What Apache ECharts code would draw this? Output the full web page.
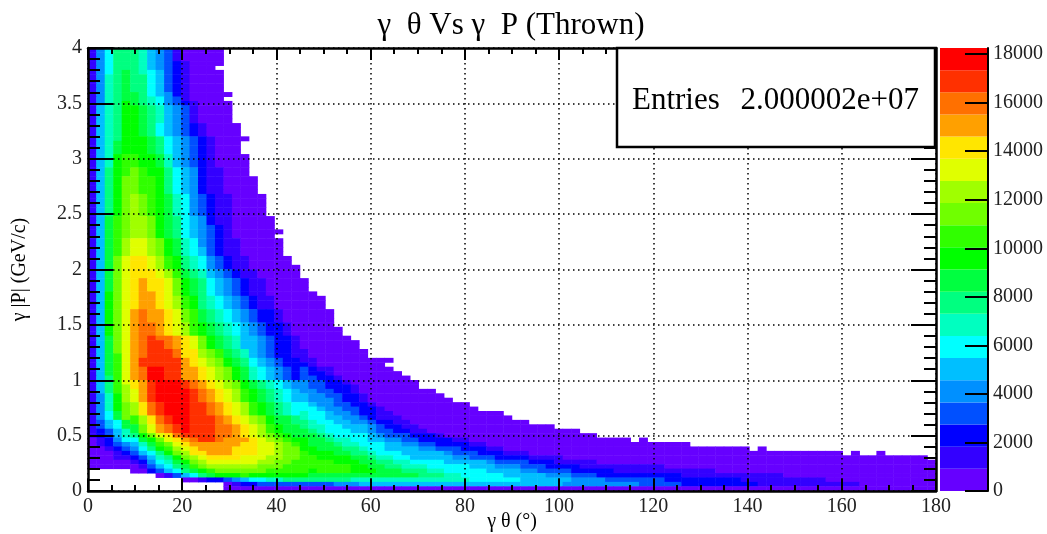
<!DOCTYPE html>
<html><head><meta charset="utf-8">
<style>html,body{margin:0;padding:0;background:#fff}#c{width:1047px;height:534px}</style>
<script src="https://cdn.jsdelivr.net/npm/echarts@6/dist/echarts.min.js"></script>
</head><body><div id="c"></div>
<script>
// 100 x 100 bin histogram, top row (P = 4) first. Each character is a colour band
// (0-9, a-j = band 0..19, "." = empty bin); "x:n" means n bins in a row; missing trailing bins are empty.
const levelRows = [
"1468887543100000","1468887543100000","1468887543100000","1468887543210000","146888754321000",
"1468987653210000","1478988653210000","1478988653210000","1478988653210000","1478988653210000",
"14789986542100000","1478998764310000","1478a987643210000","1578aa98754310000","1578aa98754310000",
"1578aa98754310000","1578aa98754310000","1578aa986543210000","1578aa986543210000","1578aa986543210000",
"1578aaa986543210000","1579aaa98654321000","1579aaa98654321000","1579aaa98654321000","157abbaa97543210000",
"157abbaa97543210000","157abbaa97543210000","158abcbaa8654211000","158abcbaa8654211000","158accbba86542110000",
"158accbba86542110000","158accbba86542110000","158accbba86542110000","158acdcba976432110000","158acdcba976432110000",
"158acdcba976432110000","158acdcba976432110000","158acdcba976432110000",
"159bcddca9865421100000","159bcddca9865421100000","159bcddca9865432100000",
"159bcddca98654321000000","159bcddca9865432100000",
"159bdeedca9764321100000","159bdeedca9764321100000","159bdeedca9765321100000","159bdeedca9765321100000",
"159ceffedba8764321100000","159ceffedba8764321100000","159ceffedba87643211000000",
"159cefffedb98754321100000","159cefffedb98754321100000",
"159cefgffeca98654321100000","159cefgffeca98654321100000","159cefgffeca98654321100000",
"15acefggfeca986543211000000",
"15acefggfedba87654321100000 0","15acefggfedba87654321100000 0","15acefggfedba87654321100000 0",
"15aceghggfecb9876543221000000","15aceghggfecb9876543221000000","15aceghggfecb9876543221000000",
"15aceghhgfedba98765432210 00 00","15aceghhgfedba98765432210 00000","15aceghhgfedba98765432210 00000",
"159ceghihhgfeca9875543221 00 0000",
"159ceghiihgfeca9875543221 00 0:5","159ceghiihgfeca9875543221 00 0:5",
"159ceghiiihffdcb987543221 10 0:6","159beghiiihffdcb987543221 10 0:6",
"159begiiiiigfedca98654322 11 0:9","159begiiiiigfedca98654322 21 0:8",
"159beghjjiiggfedca9765432 32 11 0:7","159beghjjiiggfedca9765432 32 21 0:8","158beghjjiiggfedca9765432 33 221 0:8",
"158befgijjjihgfedca987654 43 3221 0:8","158bdfgijjjihgfedca987654 43 32221 0:7",
"158bdegijjjjihgfedba98765 44 33221 0:9","147adegijjjjihgfedba98765 54 433221 0:9","147adegijjjjihgfedba98765 54 443221 0:10",
"147acdfhijjjiihgfedba9876 65 4433221 0:11","147acdfhijjjiihgfedba9876 66 54433221 0:11","1469cdfhijjjiihgfedba9876 76 654432211 0:13",
"1469cbdfhijjiiihgfedca998 76 6554432111 0:13","13569bdfhijjiiihgfedca998 87 66554432211 0:14",
"135699ceghijiiihhgfedba99 87 766555432211 0:16","123579ceghijiiihhgfedba99 98 7666554332211 0:18",
"123578acefhiiiihhgfedcba9 99 876666543332221 0:18",
"0124669acefghiihgggfedcba a9 987766554433222211 0:19 . 0",
"01234579bcefggggggffeedcb a9 99877666554433222211 0:24",
"00123468abdefggggfffeedcc aa 9998876655554433322211 0:29 . 0",
"000123568acdffgggfffeedcc ba aa99887666555554333222111 0:37 . 0 . . 0",
"0001123578acdeffffeeeddcc bb aaaa99877665555544333222211 11 0:43",
"00000124679acdeeeeeeddccb bb bbaaa9988776666555554333322211111 0:40",
"000000135689bcddddddcccbb bb bbbbaa9988777666665554443332222 1:10 0:32",
".:5 00235689abccccccbbbb ba bbbbaaa99988877666665555443333 22222 1:12 0:26",
".:8 0135689aaabaaaaaa a9 9:12 88877666665555544433 3 2:10 1:12 0:18",
".:11 001223456677888 8 8888 7:14 666666 555555 4444 3333333 2:9 1:10 0:13",
".:16 01223333333 33 444 5:24 4:9 3:5 2:9 1:12 0:9",
".:16 0:84"
];
const bandColors = ['#6600ff','#3300ff','#0000ff','#0050ff','#0090ff','#00bfff','#00ffff','#00ffc0','#00ff80','#00ff40','#00ff00','#30ff00','#70ff00','#a0ff00','#e0ff00','#ffe600','#ffa000','#ff7000','#ff3000','#ff0000'];
const bandWidth = 912.5;
const thetaBins = Array.from({length:100}, (_, i) => i);
const pBins = Array.from({length:100}, (_, i) => i);
const colorbarTicks = [0,2000,4000,6000,8000,10000,12000,14000,16000,18000];
const entriesLabel = 'Entries';
const entriesValue = '2.000002e+07';

const LV = '0123456789abcdefghij';
const cells = [];
levelRows.forEach((row, r) => {
  let c = 0;
  for (const m of row.matchAll(/([.0-9a-j])(?::(\d+))?/g)) {
    const n = m[2] ? +m[2] : 1;
    for (let k = 0; k < n; k++, c++) {
      if (m[1] !== '.' && c < 100) cells.push([c, 99 - r, (LV.indexOf(m[1]) + 0.5) * bandWidth]);
    }
  }
});
const serif = '"Liberation Serif","Times New Roman",serif';
function frameAxis(extra, major, minor, split, interval, max) {
  return Object.assign({
    type:'value', gridIndex:0, min:0, max:max, interval:interval, z:5,
    axisLine:{show:true, onZero:false, lineStyle:{color:'#000', width:2.5}},
    axisTick:{show:true, inside:true, length:major, lineStyle:{color:'#000', width:2}},
    minorTick:{show:true, splitNumber:split, length:minor, lineStyle:{color:'#000', width:2}},
    splitLine:{show:false}, axisLabel:{show:false}
  }, extra);
}
const labelStyle = {show:true, color:'#222', fontFamily:serif, fontSize:20, margin:6};
const gridDots = {show:true, lineStyle:{color:'#000', width:1.5, type:[1.5,3.5]}};
const hiddenCat = (g, d) => ({type:'category', gridIndex:g, data:d, show:false, axisLine:{onZero:false}});

const chart = echarts.init(document.getElementById('c'), null, {renderer:'canvas'});
chart.setOption({
  animation:false,
  backgroundColor:'#fff',
  title:{text:'γ\u00a0\u00a0θ Vs γ\u00a0\u00a0P (Thrown)', left:506, top:5, textAlign:'center',
         textStyle:{fontFamily:serif, fontSize:31, fontWeight:'normal', color:'#000'}},
  grid:[{left:88, top:48, width:848, height:443, outerBoundsMode:'none'},
        {left:940, top:48, width:48, height:443, outerBoundsMode:'none'}],
  xAxis:[
    hiddenCat(0, thetaBins),
    frameAxis({position:'bottom', axisLabel:labelStyle, splitLine:gridDots,
      name:'γ θ (°)', nameLocation:'middle', nameGap:21, nameMoveOverlap:false,
      nameTextStyle:{fontFamily:serif, fontSize:20, color:'#000'}}, 12, 6, 4, 20, 180),
    frameAxis({position:'top'}, 12, 6, 4, 20, 180),
    hiddenCat(1, ['band'])
  ],
  yAxis:[
    hiddenCat(0, pBins),
    frameAxis({position:'left', axisLabel:Object.assign({}, labelStyle, {formatter:v => String(v), padding:[5,0,0,0]}), splitLine:gridDots,
      name:'γ |P| (GeV/c)', nameLocation:'middle', nameGap:58, nameRotate:90, nameMoveOverlap:false,
      nameTextStyle:{fontFamily:serif, fontSize:20, color:'#000'}}, 25, 12, 5, 0.5, 4),
    frameAxis({position:'right'}, 25, 12, 5, 0.5, 4),
    {type:'value', gridIndex:1, position:'right', min:0, max:20*bandWidth, z:5,
      axisLine:{show:true, onZero:false, lineStyle:{color:'#000', width:2}},
      axisTick:{show:true, inside:true, length:23, customValues:colorbarTicks, lineStyle:{color:'#000', width:2}},
      axisLabel:{show:true, customValues:colorbarTicks, color:'#222', fontFamily:serif, fontSize:20, margin:5, padding:[5,0,0,0], formatter:v => String(v)},
      splitLine:{show:false}}
  ],
  visualMap:{type:'piecewise', show:false, seriesIndex:0, dimension:2,
    pieces:bandColors.map((color, i) => ({min:i*bandWidth, max:(i+1)*bandWidth, color}))},
  series:[
    {type:'heatmap', xAxisIndex:0, yAxisIndex:0, data:cells, silent:true, progressive:0,
     itemStyle:{borderWidth:0}, emphasis:{disabled:true}}
  ].concat(bandColors.map(color => ({
    type:'bar', xAxisIndex:3, yAxisIndex:3, stack:'bar', barWidth:'100%', silent:true,
    itemStyle:{color}, data:[bandWidth]
  }))),
  graphic:[
    {type:'rect', z:100, shape:{x:617, y:48, width:318, height:99},
     style:{fill:'#fff', stroke:'#000', lineWidth:2.5}},
    {type:'text', z:101, style:{x:632, y:101, text:entriesLabel, fill:'#000', font:'31px '+serif, textVerticalAlign:'middle'}},
    {type:'text', z:101, style:{x:919, y:101, text:entriesValue, fill:'#000', font:'31px '+serif, textAlign:'right', textVerticalAlign:'middle'}}
  ]
});
</script></body></html>
